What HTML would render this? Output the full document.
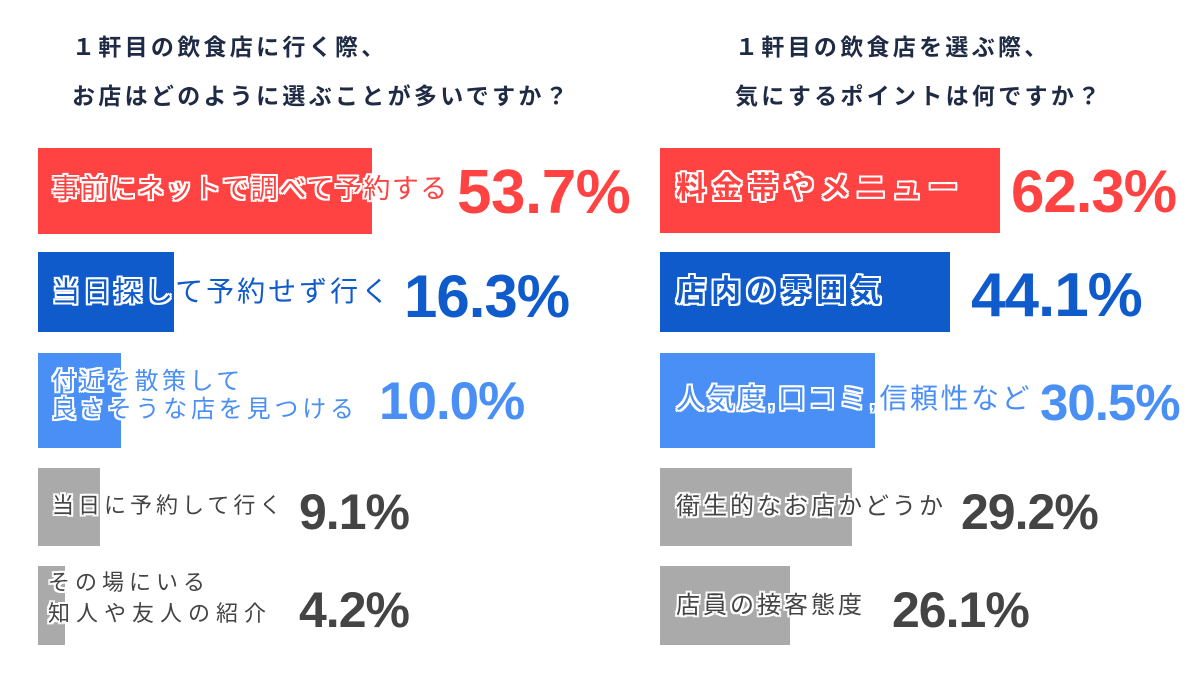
<!DOCTYPE html>
<html><head><meta charset="utf-8"><style>
body{margin:0;width:1200px;height:675px;background:#fff;position:relative;overflow:hidden;font-family:"Liberation Sans","Noto Sans CJK JP",sans-serif}
.b{position:absolute}
.t{position:absolute;white-space:nowrap;line-height:1;text-shadow:2px 0 #fff,-2px 0 #fff,0 2px #fff,0 -2px #fff,2px 2px #fff,-2px -2px #fff,2px -2px #fff,-2px 2px #fff}
.n{position:absolute;white-space:nowrap;line-height:1;font-weight:bold;font-size:52px;letter-spacing:-1px;font-family:"Liberation Sans",sans-serif}
.h{position:absolute;white-space:nowrap;line-height:1;font-weight:bold;font-size:23px;color:#1f2b45;letter-spacing:3.3px}
.r{color:#ff4242}.d{color:#0f5bcc}.l{color:#4a8ff5}.g{color:#444}
</style></head><body>
<div class="h" style="left:72px;top:36px">１軒目の飲食店に行く際、</div>
<div class="h" style="left:72px;top:85px">お店はどのように選ぶことが多いですか？</div>
<div class="h" style="left:735px;top:36px">１軒目の飲食店を選ぶ際、</div>
<div class="h" style="left:735px;top:85px">気にするポイントは何ですか？</div>

<div class="b" style="left:38px;top:148px;width:334px;height:86px;background:#ff4242"></div>
<div class="b" style="left:38px;top:252px;width:136px;height:80px;background:#0f5bcc"></div>
<div class="b" style="left:38px;top:353px;width:83px;height:95px;background:#4a8ff5"></div>
<div class="b" style="left:38px;top:468px;width:62px;height:78px;background:#aaa"></div>
<div class="b" style="left:38px;top:566px;width:27px;height:79px;background:#aaa"></div>

<div class="b" style="left:660px;top:148px;width:340px;height:85px;background:#ff4242"></div>
<div class="b" style="left:660px;top:252px;width:290px;height:80px;background:#0f5bcc"></div>
<div class="b" style="left:660px;top:353px;width:215px;height:95px;background:#4a8ff5"></div>
<div class="b" style="left:660px;top:468px;width:192px;height:78px;background:#aaa"></div>
<div class="b" style="left:660px;top:566px;width:130px;height:79px;background:#aaa"></div>

<div class="t r" style="left:52px;top:176px;font-size:27px;letter-spacing:1.4px">事前にネットで調べて予約する</div>
<div class="n r" style="left:457px;top:162px;font-size:62px;letter-spacing:-0.5px">53.7%</div>
<div class="t d" style="left:52px;top:278px;font-size:28px;letter-spacing:3px">当日探して予約せず行く</div>
<div class="n d" style="left:404px;top:267px;font-size:60px">16.3%</div>
<div class="t l" style="left:52px;top:370px;font-size:24px;letter-spacing:3.5px">付近を散策して</div>
<div class="t l" style="left:52px;top:398px;font-size:24px;letter-spacing:3.8px">良さそうな店を見つける</div>
<div class="n l" style="left:379px;top:375px;font-size:53px">10.0%</div>
<div class="t g" style="left:52px;top:495px;font-size:22px;letter-spacing:4px">当日に予約して行く</div>
<div class="n g" style="left:299px;top:487px;font-size:50px">9.1%</div>
<div class="t g" style="left:48px;top:572px;font-size:22px;letter-spacing:5px">その場にいる</div>
<div class="t g" style="left:48px;top:603px;font-size:22px;letter-spacing:6px">知人や友人の紹介</div>
<div class="n g" style="left:299px;top:585px;font-size:50px">4.2%</div>

<div class="t r" style="left:676px;top:174px;font-size:30px;font-weight:bold;letter-spacing:6px">料金帯やメニュー</div>
<div class="n r" style="left:1011px;top:162px;font-size:60px">62.3%</div>
<div class="t d" style="left:676px;top:277px;font-size:30px;font-weight:bold;letter-spacing:5px">店内の雰囲気</div>
<div class="n d" style="left:971px;top:265px;font-size:62px">44.1%</div>
<div class="t l" style="left:676px;top:385px;font-size:28px;letter-spacing:2.5px">人気度,口コミ,信頼性など</div>
<div class="n l" style="left:1040px;top:377px;font-size:51px">30.5%</div>
<div class="t g" style="left:676px;top:495px;font-size:24px;letter-spacing:3px">衛生的なお店かどうか</div>
<div class="n g" style="left:961px;top:487px;font-size:50px">29.2%</div>
<div class="t g" style="left:676px;top:594px;font-size:24px;letter-spacing:3px">店員の接客態度</div>
<div class="n g" style="left:892px;top:585px;font-size:50px">26.1%</div>
</body></html>
